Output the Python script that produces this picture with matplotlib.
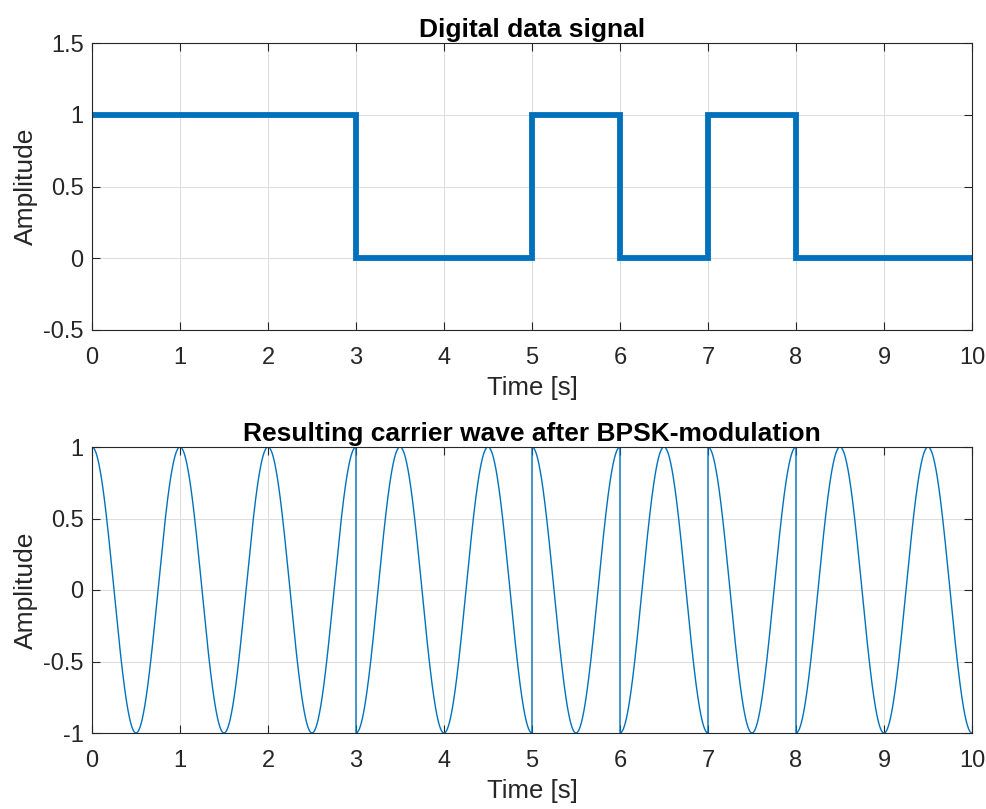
import numpy as np
import matplotlib
matplotlib.use("Agg")
import matplotlib.pyplot as plt
from matplotlib.ticker import FuncFormatter

# data
bits = [1, 1, 1, 0, 0, 1, 0, 1, 0, 0]   # one bit per second
bit_time = [0, 1, 2, 3, 4, 5, 6, 7, 8, 9, 10]
carrier_freq = 1.0  # Hz
top_yticks = [-0.5, 0, 0.5, 1, 1.5]
bot_yticks = [-1, -0.5, 0, 0.5, 1]
xticks = [0, 1, 2, 3, 4, 5, 6, 7, 8, 9, 10]

plt.rcParams['font.family'] = ['Liberation Sans', 'DejaVu Sans']
plt.rcParams['axes.unicode_minus'] = False

blue = '#0072BD'
axcol = '#262626'

fig = plt.figure(figsize=(9.87, 8.09), dpi=100)
ax1 = fig.add_axes([92 / 987, 1 - 330 / 809, 880 / 987, 287 / 809])
ax2 = fig.add_axes([92 / 987, 1 - 733 / 809, 880 / 987, 286 / 809])

# digital signal
step_vals = bits + [bits[-1]]
ax1.step(bit_time, step_vals, where='post', color=blue, lw=4.2,
         solid_joinstyle='miter')

# BPSK carrier
t = np.linspace(0, 10, 20001)
idx = np.minimum(np.floor(t).astype(int), len(bits) - 1)
sign = np.where(np.array(bits)[idx] == 1, 1.0, -1.0)
wave = sign * np.cos(2 * np.pi * carrier_freq * t)
ax2.plot(t, wave, color=blue, lw=1.0)

fmt = FuncFormatter(lambda v, p: '%g' % v)
for ax, yt, ylim, title in [
        (ax1, top_yticks, (-0.5, 1.5), 'Digital data signal'),
        (ax2, bot_yticks, (-1, 1), 'Resulting carrier wave after BPSK-modulation')]:
    ax.set_xlim(0, 10)
    ax.set_ylim(*ylim)
    ax.set_xticks(xticks)
    ax.set_yticks(yt)
    ax.xaxis.set_major_formatter(fmt)
    ax.yaxis.set_major_formatter(fmt)
    ax.grid(True, color='#dedede', lw=0.8)
    ax.set_axisbelow(True)
    ax.tick_params(direction='in', length=6, width=0.8, colors=axcol,
                   labelsize=17, top=True, right=True)
    ax.tick_params(axis='x', pad=12)
    ax.tick_params(axis='y', pad=6)
    for s in ax.spines.values():
        s.set_color(axcol)
        s.set_linewidth(0.8)
    ax.set_xlabel('Time [s]', fontsize=18.5, color=axcol, labelpad=5)
    ax.set_ylabel('Amplitude', fontsize=19, color=axcol, labelpad=4)
    ax.set_title(title, fontsize=19, fontweight='bold', pad=4)

fig.savefig('out.png', dpi=100)
